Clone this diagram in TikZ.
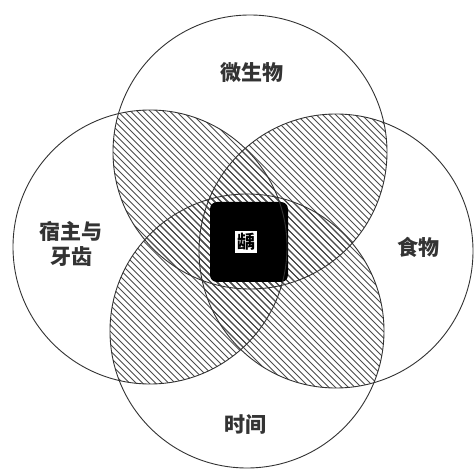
\documentclass[tikz,border=0pt]{standalone}
\usepackage{fontspec}
\newfontfamily\cjk{Noto Sans CJK SC}
\begin{document}
\begin{tikzpicture}[x=1pt,y=-1pt,
  circ/.style={draw=black!80,line width=0.9pt},
  hatch/.style={draw=black!70,line width=0.9pt},
  lab/.style={font=\cjk\bfseries\fontsize{21}{25}\selectfont, align=center, text=black!80},
  core/.style={fill=black, rounded corners=7pt}]
\useasboundingbox (0,0) rectangle (475,473);
\fill[white] (0,0) rectangle (475,473);
\coordinate (T) at (250,152);
\coordinate (L) at (150,247);
\coordinate (R) at (336,251);
\coordinate (B) at (247,331);
\def\R{137}
\foreach \p/\q in {T/L,T/R,L/B,R/B,T/B,L/R}{
  \begin{scope}
    \clip (\p) circle (\R);
    \clip (\q) circle (\R);
    \foreach \b in {-494,-487.5,...,494}
      \draw[hatch] (-10,\b-10) -- (490,\b+490);
  \end{scope}
}
\fill[core] (210,202) rectangle (288,282);
\foreach \c in {T,L,R,B}
  \draw[circ] (\c) circle (\R);
\node[lab] (micro) at (252,73) {微生物};
\node[lab] (host) at (71,244) {宿主与\\牙齿};
\node[lab] (food) at (418,247) {食物};
\node[lab] (time) at (245,425) {时间};
\node[fill=white, inner sep=2pt, font=\cjk\bfseries\fontsize{18}{20}\selectfont] (caries) at (246,242) {龋};
\end{tikzpicture}
\end{document}
